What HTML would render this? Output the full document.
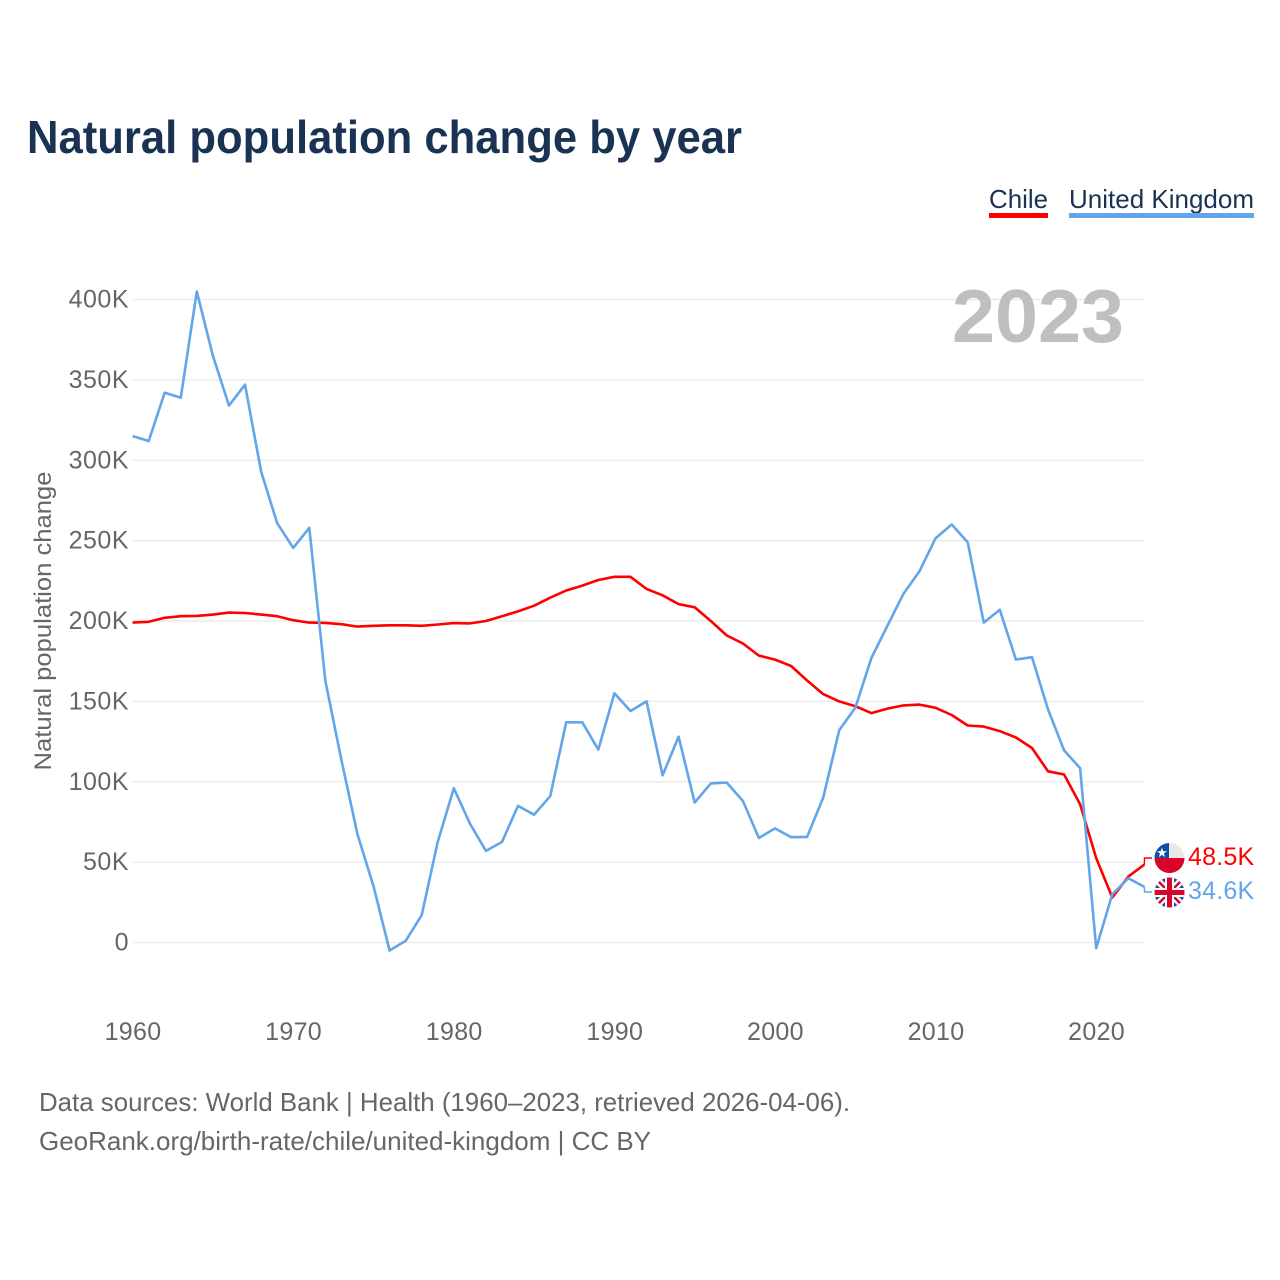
<!DOCTYPE html>
<html lang="en">
<head>
<meta charset="utf-8">
<title>Natural population change by year</title>
<style>
html,body{margin:0;padding:0;background:#fff;width:1280px;height:1280px;overflow:hidden}
svg{display:block}
text{font-family:"Liberation Sans",sans-serif}
</style>
</head>
<body>
<svg id="chart" width="1280" height="1280" viewBox="0 0 1280 1280" xmlns="http://www.w3.org/2000/svg">
<defs>
<clipPath id="clip-cl"><circle cx="1169.5" cy="858" r="15"/></clipPath>
<clipPath id="clip-uk"><circle cx="1169.5" cy="892.5" r="15"/></clipPath>
</defs>
<text x="27" y="153" font-size="46" font-weight="700" fill="#1a3353" textLength="715" lengthAdjust="spacingAndGlyphs">Natural population change by year</text>
<g>
<text x="989" y="208" font-size="26" fill="#1a3353" textLength="59" lengthAdjust="spacingAndGlyphs">Chile</text>
<rect x="989" y="213" width="59" height="5" fill="#ff0000"/>
</g>
<g>
<text x="1069" y="208" font-size="26" fill="#1a3353" textLength="185" lengthAdjust="spacingAndGlyphs">United Kingdom</text>
<rect x="1069" y="213" width="185" height="5" fill="#62a5ea"/>
</g>
<g id="grid"></g>
<text x="952" y="342" font-size="75" font-weight="700" fill="#bfbfbf" textLength="172" lengthAdjust="spacingAndGlyphs">2023</text>
<g id="y-ticks"></g>
<g id="x-ticks"></g>
<text transform="translate(51 621) rotate(-90)" text-anchor="middle" font-size="24" fill="#666" textLength="299" lengthAdjust="spacingAndGlyphs">Natural population change</text>
<g id="series"></g>
<g clip-path="url(#clip-cl)">
<rect x="1154" y="843" width="31" height="15" fill="#e8e8e8"/>
<rect x="1154" y="843" width="15" height="15" fill="#0f4fa8"/>
<rect x="1154" y="858" width="31" height="16" fill="#d90429"/>
<text x="1162" y="857" font-size="13" fill="#fff" text-anchor="middle">★</text>
</g>
<g clip-path="url(#clip-uk)">
<rect x="1154" y="877" width="31" height="31" fill="#1f4f9e"/>
<path d="M1154 877L1185 908M1185 877L1154 908" stroke="#fff" stroke-width="7"/>
<path d="M1154 877L1185 908M1185 877L1154 908" stroke="#d90429" stroke-width="2.5"/>
<path d="M1169.5 877V908M1154 892.5H1185" stroke="#fff" stroke-width="9"/>
<path d="M1169.5 877V908M1154 892.5H1185" stroke="#d90429" stroke-width="5"/>
</g>
<text id="value-chile" x="1188" y="865" font-size="25" letter-spacing="0.2" fill="#ff0000"></text>
<text id="value-uk" x="1188" y="899" font-size="25" letter-spacing="0.2" fill="#62a5ea"></text>
<text x="39" y="1111" font-size="26" fill="#666" textLength="811" lengthAdjust="spacingAndGlyphs">Data sources: World Bank | Health (1960–2023, retrieved 2026-04-06).</text>
<text x="39" y="1150" font-size="26" fill="#666" textLength="612" lengthAdjust="spacingAndGlyphs">GeoRank.org/birth-rate/chile/united-kingdom | CC BY</text>
</svg>
<script>
const startYear = 1960;
const yTickValues = [0, 50, 100, 150, 200, 250, 300, 350, 400];
const xTickYears = [1960, 1970, 1980, 1990, 2000, 2010, 2020];
const chileValues = [199,199.5,202,203,203.2,204,205.2,205,204,203,200.5,199,198.8,198,196.5,197,197.3,197.3,197,197.8,198.7,198.5,200,203,206,209.5,214.5,219,222,225.5,227.5,227.5,220,216,210.5,208.5,200,191,186,178.5,176,172,163,154.5,150,147,142.7,145.5,147.5,148,146,141.5,135,134.3,131.5,127.5,121,106.5,104.5,86,52.5,28,41,48.5];
const ukValues = [315,312,342,339,405,365,334,347,293,261,245.5,258,163,113.5,67.5,35,-5,1,17,62.5,96,74,57,62.5,85,79.5,91,137,137,120,155,144,150,104,128,87,99,99.5,88,65,71,65.5,65.7,90,132,146,177,197,217,231,251.5,260,249,199,207,176,177.5,145,119.5,108.5,-3.5,30,40,34.6];

const NS = 'http://www.w3.org/2000/svg';
const xScale = year => 132.6 + (year - 1960) * 16.06;
const yScale = value => 942.5 - value * 1.6075;
const lastOf = arr => arr[arr.length - 1];

const grid = document.getElementById('grid');
const yTicks = document.getElementById('y-ticks');
yTickValues.forEach(v => {
  const line = document.createElementNS(NS, 'line');
  
  
  line.setAttribute('x1', 133);
  line.setAttribute('x2', 1144);
  line.setAttribute('y1', yScale(v));
  line.setAttribute('y2', yScale(v));
  line.setAttribute('stroke', '#e8e8e8');
  line.setAttribute('stroke-width', 1.2);
  grid.appendChild(line);
  const t = document.createElementNS(NS, 'text');
  
  
  t.setAttribute('x', 129);
  t.setAttribute('y', yScale(v) + 8);
  t.setAttribute('text-anchor', 'end');
  t.setAttribute('font-size', 25);
  t.setAttribute('letter-spacing', 0.5);
  t.setAttribute('fill', '#666');
  t.textContent = v === 0 ? '0' : v + 'K';
  yTicks.appendChild(t);
});

const xTicks = document.getElementById('x-ticks');
xTickYears.forEach(y => {
  const t = document.createElementNS(NS, 'text');
  
  
  t.setAttribute('x', xScale(y) + 0.4);
  t.setAttribute('y', 1040);
  t.setAttribute('text-anchor', 'middle');
  t.setAttribute('font-size', 25);
  t.setAttribute('letter-spacing', 0.3);
  t.setAttribute('fill', '#666');
  t.textContent = y;
  xTicks.appendChild(t);
});

const seriesGroup = document.getElementById('series');
function drawSeries(values, colour, labelY) {
  const pts = values.map((v, i) => xScale(startYear + i).toFixed(1) + ' ' + yScale(v).toFixed(1));
  const path = document.createElementNS(NS, 'path');
  path.setAttribute('d', 'M' + pts.join('L'));
  path.setAttribute('fill', 'none');
  path.setAttribute('stroke', colour);
  path.setAttribute('stroke-width', 2.6);
  path.setAttribute('stroke-linejoin', 'round');
  return { path, connector: 'M' + pts[pts.length - 1] + 'L1144.5 ' + labelY + 'L1152 ' + labelY };
}
const chile = drawSeries(chileValues, '#ff0000', 858);


const uk = drawSeries(ukValues, '#62a5ea', 892);


seriesGroup.appendChild(chile.path);
seriesGroup.appendChild(uk.path);

const chileLink = document.createElementNS(NS, 'path');


chileLink.setAttribute('d', chile.connector);
chileLink.setAttribute('fill', 'none');
chileLink.setAttribute('stroke', '#ff0000');
chileLink.setAttribute('stroke-width', 1.4);
seriesGroup.appendChild(chileLink);
const ukLink = document.createElementNS(NS, 'path');


ukLink.setAttribute('d', uk.connector);
ukLink.setAttribute('fill', 'none');
ukLink.setAttribute('stroke', '#62a5ea');
ukLink.setAttribute('stroke-width', 1.4);
seriesGroup.appendChild(ukLink);

document.getElementById('value-chile').textContent = lastOf(chileValues).toFixed(1) + 'K';
document.getElementById('value-uk').textContent = lastOf(ukValues).toFixed(1) + 'K';
</script>
</body>
</html>
